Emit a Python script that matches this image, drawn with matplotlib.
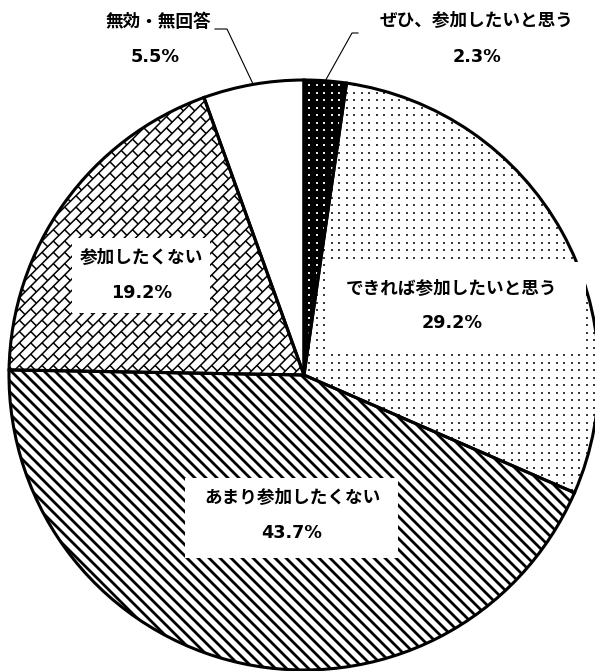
import numpy as np
import matplotlib.pyplot as plt
from matplotlib.collections import LineCollection
from matplotlib.patches import Rectangle

plt.rcParams['font.family'] = ['DejaVu Sans', 'Noto Sans CJK JP']
plt.rcParams['font.weight'] = 'bold'

labels = ['ぜひ、参加したいと思う', 'できれば参加したいと思う', 'あまり参加したくない',
          '参加したくない', '無効・無回答']
shares = [2.3, 29.2, 43.7, 19.2, 5.5]
pct_labels = [f'{v:.1f}%' for v in shares]

W, H, DPI = 595, 671, 100
fig = plt.figure(figsize=(W / DPI, H / DPI), dpi=DPI)
ax = fig.add_axes([0, 0, 1, 1])

cx, cy, r = 304, 296, 295
faces = ['black', 'white', 'white', 'white', 'white']

# filled wedges (no outline yet)
wedges, _ = ax.pie(shares, startangle=90, counterclock=False, center=(cx, cy), radius=r,
                   colors=faces, wedgeprops=dict(linewidth=0, zorder=1))

# dot screen for the two "参加したい" slices
gx, gy = np.meshgrid(np.arange(cx - r, cx + r, 7.5), np.arange(cy - r, cy + r, 7.5))
for idx, col in [(0, '#e6e6e6'), (1, '#3a3a3a')]:
    sc = ax.scatter(gx.ravel(), gy.ravel(), s=2.6, marker='s', c=col, linewidths=0, zorder=2)
    sc.set_clip_path(wedges[idx])

# diagonal stripes
xa, xb = cx - r - 20, cx + r + 20
offsets = np.arange(cx + cy - 2 * r - 40, cx + cy + 2 * r + 40, 11)
stripes = [[(xa, c - xa), (xb, c - xb)] for c in offsets]
lc = LineCollection(stripes, colors='black', linewidths=2.0, zorder=2)
lc.set_clip_path(wedges[2])
ax.add_collection(lc)

# brick pattern, rotated 45 degrees
s, L = 8.0, 16.0
U = 1.5 * r
rt = np.sqrt(2)
bricks = []
for k in range(int(-U / s), int(U / s) + 1):
    v = k * s
    bricks.append([(cx + (-U - v) / rt, cy + (-U + v) / rt), (cx + (U - v) / rt, cy + (U + v) / rt)])
    for u in np.arange(-U, U, L) + (k % 2) * L / 2:
        bricks.append([(cx + (u - v) / rt, cy + (u + v) / rt),
                       (cx + (u - v - s) / rt, cy + (u + v + s) / rt)])
bc = LineCollection(bricks, colors='black', linewidths=1.1, zorder=2)
bc.set_clip_path(wedges[3])
ax.add_collection(bc)

# outlines on top
ax.pie(shares, startangle=90, counterclock=False, center=(cx, cy), radius=r,
       wedgeprops=dict(facecolor='none', edgecolor='black', linewidth=2.2, zorder=3))

# labels inside the pie, on white boxes
fs = 12.7
inner = {
    1: ((327, 321, 259, 88), (452, 383), (452, 348)),
    2: ((185, 113, 213, 80), (292, 174), (292, 138)),
    3: ((72, 358, 138, 75), (141, 414), (142, 378)),
}
for idx, (box, p1, p2) in inner.items():
    ax.add_patch(Rectangle(box[:2], box[2], box[3], facecolor='white', edgecolor='none', zorder=4))
    ax.text(*p1, labels[idx], ha='center', va='center', fontsize=fs, zorder=5)
    ax.text(*p2, pct_labels[idx], ha='center', va='center', fontsize=fs, zorder=5)

# small slices labelled outside with leader lines
frac = np.array(shares) / sum(shares)
start = 90 - 360 * np.concatenate([[0], np.cumsum(frac)[:-1]])
mid = np.radians(start - 180 * frac)
outer = {
    0: ((477, 651), (477, 614), (352, 638), (358, 638)),
    4: ((158, 649), (155, 614), (227, 642), (215, 642)),
}
for idx, (p1, p2, elbow, tail) in outer.items():
    ex, ey = cx + r * np.cos(mid[idx]), cy + r * np.sin(mid[idx])
    ax.plot([ex, elbow[0], tail[0]], [ey, elbow[1], tail[1]], color='black', lw=0.8, zorder=3)
    ax.text(*p1, labels[idx], ha='center', va='center', fontsize=fs)
    ax.text(*p2, pct_labels[idx], ha='center', va='center', fontsize=fs)

ax.set_xlim(0, W)
ax.set_ylim(0, H)
ax.set_aspect('equal')
ax.axis('off')

fig.savefig('out.png', dpi=DPI)
